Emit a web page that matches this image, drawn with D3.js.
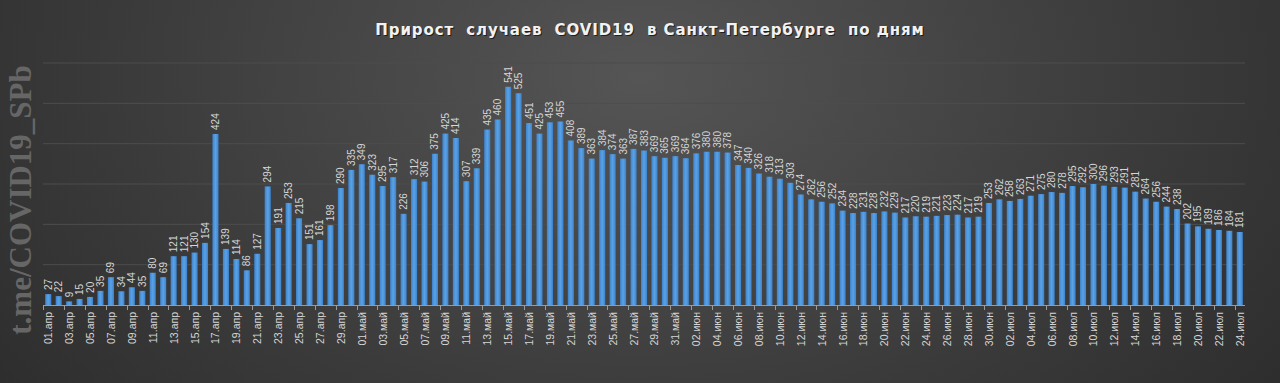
<!DOCTYPE html>
<html><head><meta charset="utf-8">
<script src="https://cdn.jsdelivr.net/npm/d3@7"></script>
<style>html,body{margin:0;padding:0;background:#2b2b2b;overflow:hidden}</style>
</head><body>
<svg id="chart" width="1280" height="383"></svg>
<script>
const title = "Прирост  случаев  COVID19  в Санкт-Петербурге  по дням";
const watermark = "t.me/COVID19_SPb";
const monthNames = ["апр", "май", "июн", "июл"];
const monthDays = [30, 31, 30, 24];
const values = [
  // April
  27,22,9,15,20,35,69,34,44,35,80,69,121,121,130,154,424,139,114,86,127,294,191,253,215,151,161,198,290,335,
  // May
  349,323,295,317,226,312,306,375,425,414,307,339,435,460,541,525,451,425,453,455,408,389,363,384,374,363,387,383,369,365,369,
  // June
  364,376,380,380,378,347,340,326,318,313,303,274,262,256,252,234,228,231,228,232,229,217,220,219,221,223,224,217,219,253,
  // July
  262,258,263,271,275,280,278,295,292,300,296,293,291,281,264,256,244,238,202,195,189,186,184,181
];
const yTicks = [100, 200, 300, 400, 500, 600];

const categories = [];
monthNames.forEach((m, i) => {
  for (let d = 1; d <= monthDays[i]; d++) categories.push(String(d).padStart(2, "0") + "." + m);
});
const data = categories.map((c, i) => ({cat: c, v: values[i]}));

const W = 1280, H = 383;
const svg = d3.select("#chart");
const defs = svg.append("defs");
const bg = defs.append("radialGradient").attr("id", "bg").attr("cx", "50%").attr("cy", "20%").attr("r", "75%")
  .attr("gradientTransform", "translate(0.5,0.2) scale(1,2.2) translate(-0.5,-0.2)");
bg.append("stop").attr("offset", "0%").attr("stop-color", "#555555");
bg.append("stop").attr("offset", "55%").attr("stop-color", "#3a3a3a");
bg.append("stop").attr("offset", "100%").attr("stop-color", "#262626");
svg.append("rect").attr("width", W).attr("height", H).attr("fill", "url(#bg)");

const barG = defs.append("linearGradient").attr("id", "barg").attr("x1", 0).attr("x2", 1).attr("y1", 0).attr("y2", 0);
barG.append("stop").attr("offset", "0%").attr("stop-color", "#3d83cc");
barG.append("stop").attr("offset", "50%").attr("stop-color", "#5aa2e6");
barG.append("stop").attr("offset", "100%").attr("stop-color", "#3d83cc");

const x = d3.scaleBand().domain(categories).range([43, 1245]).paddingInner(0.42).paddingOuter(0.21);
const y = d3.scaleLinear().domain([0, 600]).range([305, 63]);

// gridlines
svg.append("g").selectAll("line").data(yTicks).join("line")
  .attr("x1", 43).attr("x2", 1245)
  .attr("y1", d => y(d)).attr("y2", d => y(d))
  .attr("stroke", "#4d4d4d").attr("stroke-width", 1);

// watermark
svg.append("text")
  .attr("transform", "translate(31,200) rotate(-90)")
  .attr("text-anchor", "middle")
  .attr("font-family", "'Liberation Serif', 'DejaVu Serif', serif")
  .attr("font-weight", "bold")
  .attr("font-size", 31)
  .attr("fill", "#666666")
  .text(watermark);

// bars
svg.append("g").selectAll("rect").data(data).join("rect")
  .attr("x", d => x(d.cat)).attr("width", x.bandwidth())
  .attr("y", d => y(d.v)).attr("height", d => y(0) - y(d.v))
  .attr("fill", "url(#barg)");

// value labels
svg.append("g").selectAll("text").data(data).join("text")
  .attr("transform", d => `translate(${x(d.cat) + x.bandwidth() / 2 + 3.5},${y(d.v) - 4}) rotate(-90)`)
  .attr("font-family", "'Liberation Sans', Arial, sans-serif")
  .attr("font-size", 10)
  .attr("fill", "#d6d6d6")
  .text(d => d.v);

// x axis
const step = x.step();
const xAxisG = svg.append("g").attr("transform", `translate(0,${y(0)})`);
xAxisG.append("line").attr("x1", 43).attr("x2", 1245).attr("y1", 0.5).attr("y2", 0.5).attr("stroke", "#9a9a9a");
const tickCats = categories.filter((c, i) => i % 2 === 0);
xAxisG.selectAll(".tk").data(tickCats).join("line")
  .attr("x1", d => Math.round(x(d) - (step - x.bandwidth()) / 2) + 0.5)
  .attr("x2", d => Math.round(x(d) - (step - x.bandwidth()) / 2) + 0.5)
  .attr("y1", 0).attr("y2", 5).attr("stroke", "#9a9a9a");
xAxisG.selectAll(".lb").data(tickCats).join("text")
  .attr("transform", d => `translate(${x(d) + x.bandwidth() / 2 + 4},7) rotate(-90)`)
  .attr("text-anchor", "end")
  .attr("font-family", "'Liberation Sans', Arial, sans-serif")
  .attr("font-size", 10.5)
  .attr("fill", "#d6d6d6")
  .text(d => d);

// title
[["#000", 0.6, 1], ["#f2f2f2", 1, 0]].forEach(([col, op, off]) => {
  svg.append("text")
    .attr("x", 650 + off).attr("y", 35 + off)
    .attr("text-anchor", "middle")
    .attr("font-family", "'DejaVu Sans', 'Liberation Sans', sans-serif")
    .attr("font-weight", "bold")
    .attr("font-size", 15)
    .attr("letter-spacing", 0.9)
    .attr("fill", col)
    .attr("opacity", op)
    .style("white-space", "pre")
    .text(title);
});
</script>
</body></html>
